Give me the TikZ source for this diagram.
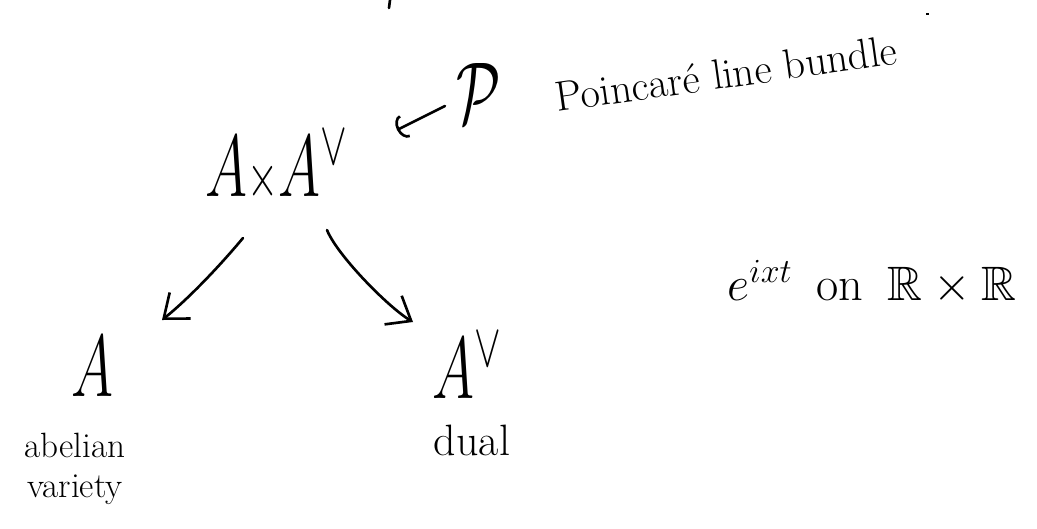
\RequirePackage{fix-cm}
\documentclass[tikz,border=0pt]{standalone}
\usepackage{amssymb}
\usetikzlibrary{arrows.meta}
\tikzset{
  stroke/.style={line width=1.5pt, line cap=round, line join=round},
  arr/.style={stroke, -{Straight Barb[length=12pt,width=19pt]}},
  hookarr/.style={stroke, -{Arc Barb[length=5pt,width=14pt]}},
  big/.style={font=\fontsize{50}{55}\selectfont, xscale=0.65, inner sep=0pt},
  lbl/.style={font=\fontsize{20}{23}\selectfont, inner sep=0pt, align=center},
}
\begin{document}
\begin{tikzpicture}[x=0.02cm,y=-0.02cm]
\fill[white] (0,0) rectangle (1037,528);
\useasboundingbox (0,0) rectangle (1037,528);
% nodes
\node[big, anchor=base] (prod) at (277,196) {$A{\scriptstyle\times}A^{\vee}$};
\node[big, anchor=center] (pp) at (479,93) {$\mathcal{P}$};
\node[font=\fontsize{24}{28}\selectfont, anchor=base, rotate=8, inner sep=0pt] (plb) at (728,88) {Poincaré line bundle};
\node[big, anchor=base] (a) at (92,396) {$A$};
\node[big, anchor=base] (av) at (467,398) {$A^{\vee}$};
\node[lbl] (ab) at (75,469) {abelian\\variety};
\node[font=\fontsize{25}{28}\selectfont, anchor=base, inner sep=0pt] (dual) at (472,455) {dual};
\node[font=\fontsize{27.5}{31}\selectfont, anchor=base, inner sep=0pt] (ex) at (872,300) {$e^{ixt}$\enspace on\enspace $\mathbb{R}\times\mathbb{R}$};
% connectors
\draw[arr] ([shift={(-34,42)}]prod.base) .. controls +(-25,30) and +(25,-20) .. ([shift={(70,-76)}]a.base);
\draw[arr] ([shift={(50,34)}]prod.base) .. controls +(10,25) and +(-25,-15) .. ([shift={(-54,-76)}]av.base);
\draw[hookarr] ([shift={(-34,13)}]pp.center) -- ([shift={(120,-66)}]prod.base);
% stray marks
\draw[stroke] (390,0) -- (389,8);
\draw[line width=1pt] (926,14) -- (929,14);
\end{tikzpicture}
\end{document}
